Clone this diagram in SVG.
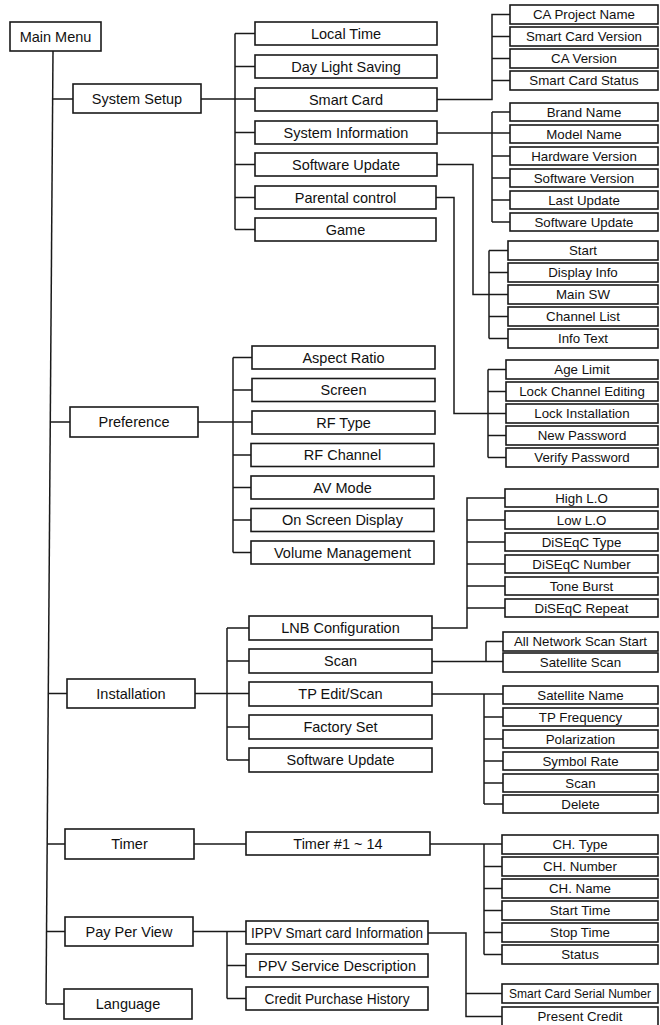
<svg xmlns="http://www.w3.org/2000/svg" width="660" height="1025" viewBox="0 0 660 1025">
<style>
rect{fill:#fff;stroke:#1a1a1a;stroke-width:1.6}
.c path{fill:none;stroke:#1a1a1a;stroke-width:1.5}
text{font-family:"Liberation Sans",Arial,sans-serif;fill:#111;text-anchor:middle}
.t{font-size:14.5px}
.s{font-size:13.3px}
</style>
<rect x="-1" y="-1" width="662" height="1027" style="fill:#fff;stroke:none"/>
<g class="c">
<path d="M53 51 L46 1004"/>
<path d="M52.6 99 H73 M50.3 422 H70 M48.3 693.5 H67 M47.2 844 H65 M46.5 931.5 H65 M46 1004 H64"/>
<path d="M201 99 H255 M235 33.5 V229.5 M235 33.5 H255 M235 66.5 H255 M235 132.5 H255 M235 164.5 H255 M235 197.5 H255 M235 229.5 H255"/>
<path d="M437 99.5 H492 V14.5 H510 M492 36.5 H510 M492 58.5 H510 M492 80.5 H510"/>
<path d="M437 133 H510 M492 112 V222 M492 112 H510 M492 156 H510 M492 178 H510 M492 200 H510 M492 222 H510"/>
<path d="M437 164.5 H473 V294.5 H508 M489 250.5 V338.5 M489 250.5 H508 M489 272.5 H508 M489 316.5 H508 M489 338.5 H508"/>
<path d="M436 197.5 H454 V413.5 H506 M488 369.5 V457.5 M488 369.5 H506 M488 391.5 H506 M488 435.5 H506 M488 457.5 H506"/>
<path d="M198 422 H252 M233 357.5 V552.5 M233 357.5 H252 M233 390 H252 M233 455 H251 M233 487.5 H251 M233 520 H251 M233 552.5 H251"/>
<path d="M195 693.5 H249 M227 628 V760 M227 628 H249 M227 661 H249 M227 727 H249 M227 760 H249"/>
<path d="M432 628 H467 V498 H505 M467 520 H505 M467 542 H505 M467 564 H505 M467 586 H505 M467 608 H505"/>
<path d="M432 661.5 H503 M486 641.5 V661.5 M486 641.5 H503"/>
<path d="M432 694 H503 M484 694 V804 M484 717 H503 M484 739 H503 M484 761 H503 M484 783 H503 M484 804 H503"/>
<path d="M194 844 H246 M430 844 H502 M484 844 V954.5 M484 866.5 H502 M484 888.5 H502 M484 910.5 H502 M484 932.5 H502 M484 954.5 H502"/>
<path d="M193 931.5 H246 M227 931.5 V998.5 M227 965.5 H246 M227 998.5 H246"/>
<path d="M428 933 H466 V1016.5 H502 M466 993.5 H502"/>
</g>
<g id="main"><rect x="10" y="22" width="91" height="29"/><text class="t" x="55.5" y="41.7">Main Menu</text></g>
<g id="system-setup"><rect x="73" y="84" width="128" height="29"/><text class="t" x="137" y="103.7">System Setup</text></g>
<g id="local-time"><rect x="255" y="22" width="182" height="23"/><text class="t" x="346" y="38.7">Local Time</text></g>
<g id="day-light"><rect x="255" y="55" width="182" height="23"/><text class="t" x="346" y="71.7">Day Light Saving</text></g>
<g id="smart-card"><rect x="255" y="88" width="182" height="23"/><text class="t" x="346" y="104.7">Smart Card</text></g>
<g id="system-info"><rect x="255" y="121" width="182" height="23"/><text class="t" x="346" y="137.7">System Information</text></g>
<g id="sw-update"><rect x="255" y="153" width="182" height="23"/><text class="t" x="346" y="169.7">Software Update</text></g>
<g id="parental"><rect x="255" y="186" width="181" height="23"/><text class="t" x="345.5" y="202.7">Parental control</text></g>
<g id="game"><rect x="255" y="218" width="181" height="23"/><text class="t" x="345.5" y="234.7">Game</text></g>
<g id="ca-project"><rect x="510" y="5" width="148" height="19"/><text class="s" x="584" y="19.3">CA Project Name</text></g>
<g id="sc-version"><rect x="510" y="27" width="148" height="19"/><text class="s" x="584" y="41.3">Smart Card Version</text></g>
<g id="ca-version"><rect x="510" y="49" width="148" height="19"/><text class="s" x="584" y="63.3">CA Version</text></g>
<g id="sc-status"><rect x="510" y="71" width="148" height="19"/><text class="s" x="584" y="85.3">Smart Card Status</text></g>
<g id="brand"><rect x="510" y="103" width="148" height="18"/><text class="s" x="584" y="116.8">Brand Name</text></g>
<g id="model"><rect x="510" y="125" width="148" height="18"/><text class="s" x="584" y="138.8">Model Name</text></g>
<g id="hw-version"><rect x="510" y="147" width="148" height="18"/><text class="s" x="584" y="160.8">Hardware Version</text></g>
<g id="sw-version"><rect x="510" y="169" width="148" height="18"/><text class="s" x="584" y="182.8">Software Version</text></g>
<g id="last-update"><rect x="510" y="191" width="148" height="18"/><text class="s" x="584" y="204.8">Last Update</text></g>
<g id="sw-update2"><rect x="510" y="213" width="148" height="18"/><text class="s" x="584" y="226.8">Software Update</text></g>
<g id="start"><rect x="508" y="241" width="150" height="19"/><text class="s" x="583" y="255.3">Start</text></g>
<g id="display-info"><rect x="508" y="263" width="150" height="19"/><text class="s" x="583" y="277.3">Display Info</text></g>
<g id="main-sw"><rect x="508" y="285" width="150" height="19"/><text class="s" x="583" y="299.3">Main SW</text></g>
<g id="channel-list"><rect x="508" y="307" width="150" height="19"/><text class="s" x="583" y="321.3">Channel List</text></g>
<g id="info-text"><rect x="508" y="329" width="150" height="19"/><text class="s" x="583" y="343.3">Info Text</text></g>
<g id="age-limit"><rect x="506" y="360" width="152" height="19"/><text class="s" x="582" y="374.3">Age Limit</text></g>
<g id="lock-ch"><rect x="506" y="382" width="152" height="19"/><text class="s" x="582" y="396.3">Lock Channel Editing</text></g>
<g id="lock-inst"><rect x="506" y="404" width="152" height="19"/><text class="s" x="582" y="418.3">Lock Installation</text></g>
<g id="new-pw"><rect x="506" y="426" width="152" height="19"/><text class="s" x="582" y="440.3">New Password</text></g>
<g id="verify-pw"><rect x="506" y="448" width="152" height="19"/><text class="s" x="582" y="462.3">Verify Password</text></g>
<g id="preference"><rect x="70" y="407" width="128" height="30"/><text class="t" x="134" y="427.2">Preference</text></g>
<g id="aspect"><rect x="252" y="346" width="183" height="23"/><text class="t" x="343.5" y="362.7">Aspect Ratio</text></g>
<g id="screen"><rect x="252" y="378.5" width="183" height="23"/><text class="t" x="343.5" y="395.2">Screen</text></g>
<g id="rf-type"><rect x="252" y="411" width="183" height="23"/><text class="t" x="343.5" y="427.7">RF Type</text></g>
<g id="rf-channel"><rect x="251" y="443.5" width="183" height="23"/><text class="t" x="342.5" y="460.2">RF Channel</text></g>
<g id="av-mode"><rect x="251" y="476" width="183" height="23"/><text class="t" x="342.5" y="492.7">AV Mode</text></g>
<g id="osd"><rect x="251" y="508.5" width="183" height="23"/><text class="t" x="342.5" y="525.2">On Screen Display</text></g>
<g id="volume"><rect x="251" y="541" width="183" height="23"/><text class="t" x="342.5" y="557.7">Volume Management</text></g>
<g id="installation"><rect x="67" y="679" width="128" height="29"/><text class="t" x="131" y="698.7">Installation</text></g>
<g id="lnb"><rect x="249" y="616" width="183" height="24"/><text class="t" x="340.5" y="633.2">LNB Configuration</text></g>
<g id="scan"><rect x="249" y="649" width="183" height="24"/><text class="t" x="340.5" y="666.2">Scan</text></g>
<g id="tp-edit"><rect x="249" y="682" width="183" height="24"/><text class="t" x="340.5" y="699.2">TP Edit/Scan</text></g>
<g id="factory"><rect x="249" y="715" width="183" height="24"/><text class="t" x="340.5" y="732.2">Factory Set</text></g>
<g id="sw-update3"><rect x="249" y="748" width="183" height="24"/><text class="t" x="340.5" y="765.2">Software Update</text></g>
<g id="high-lo"><rect x="505" y="489" width="153" height="18"/><text class="s" x="581.5" y="502.8">High L.O</text></g>
<g id="low-lo"><rect x="505" y="511" width="153" height="18"/><text class="s" x="581.5" y="524.8">Low L.O</text></g>
<g id="diseqc-type"><rect x="505" y="533" width="153" height="18"/><text class="s" x="581.5" y="546.8">DiSEqC Type</text></g>
<g id="diseqc-num"><rect x="505" y="555" width="153" height="18"/><text class="s" x="581.5" y="568.8">DiSEqC Number</text></g>
<g id="tone-burst"><rect x="505" y="577" width="153" height="18"/><text class="s" x="581.5" y="590.8">Tone Burst</text></g>
<g id="diseqc-rep"><rect x="505" y="599" width="153" height="18"/><text class="s" x="581.5" y="612.8">DiSEqC Repeat</text></g>
<g id="all-net"><rect x="503" y="632" width="155" height="19"/><text class="s" x="580.5" y="646.3">All Network Scan Start</text></g>
<g id="sat-scan"><rect x="503" y="653" width="155" height="19"/><text class="s" x="580.5" y="667.3">Satellite Scan</text></g>
<g id="sat-name"><rect x="503" y="686" width="155" height="18"/><text class="s" x="580.5" y="699.8">Satellite Name</text></g>
<g id="tp-freq"><rect x="503" y="708" width="155" height="18"/><text class="s" x="580.5" y="721.8">TP Frequency</text></g>
<g id="polar"><rect x="503" y="730" width="155" height="18"/><text class="s" x="580.5" y="743.8">Polarization</text></g>
<g id="symbol"><rect x="503" y="752" width="155" height="18"/><text class="s" x="580.5" y="765.8">Symbol Rate</text></g>
<g id="scan2"><rect x="503" y="774" width="155" height="18"/><text class="s" x="580.5" y="787.8">Scan</text></g>
<g id="delete"><rect x="503" y="795" width="155" height="18"/><text class="s" x="580.5" y="808.8">Delete</text></g>
<g id="timer"><rect x="65" y="829" width="129" height="30"/><text class="t" x="129.5" y="849.2">Timer</text></g>
<g id="timer-n"><rect x="246" y="832" width="184" height="23"/><text class="t" x="338" y="848.7">Timer #1 ~ 14</text></g>
<g id="ch-type"><rect x="502" y="835" width="156" height="19"/><text class="s" x="580" y="849.3">CH. Type</text></g>
<g id="ch-num"><rect x="502" y="857" width="156" height="19"/><text class="s" x="580" y="871.3">CH. Number</text></g>
<g id="ch-name"><rect x="502" y="879" width="156" height="19"/><text class="s" x="580" y="893.3">CH. Name</text></g>
<g id="start-time"><rect x="502" y="901" width="156" height="19"/><text class="s" x="580" y="915.3">Start Time</text></g>
<g id="stop-time"><rect x="502" y="923" width="156" height="19"/><text class="s" x="580" y="937.3">Stop Time</text></g>
<g id="status"><rect x="502" y="945" width="156" height="19"/><text class="s" x="580" y="959.3">Status</text></g>
<g id="ppv"><rect x="65" y="917" width="128" height="29"/><text class="t" x="129" y="936.7">Pay Per View</text></g>
<g id="ippv"><rect x="246" y="921" width="182" height="23"/><text class="t" x="337" y="937.7" textLength="172" lengthAdjust="spacingAndGlyphs">IPPV Smart card Information</text></g>
<g id="ppv-desc"><rect x="246" y="954" width="182" height="23"/><text class="t" x="337" y="970.7" textLength="158" lengthAdjust="spacingAndGlyphs">PPV Service Description</text></g>
<g id="credit-hist"><rect x="246" y="987" width="182" height="23"/><text class="t" x="337" y="1003.7" textLength="145" lengthAdjust="spacingAndGlyphs">Credit Purchase History</text></g>
<g id="sc-serial"><rect x="502" y="984" width="156" height="19"/><text x="580" y="998" style="font-size:12.4px" textLength="142" lengthAdjust="spacingAndGlyphs">Smart Card Serial Number</text></g>
<g id="present-credit"><rect x="502" y="1007" width="156" height="20"/><text class="s" x="580" y="1021.3">Present Credit</text></g>
<g id="language"><rect x="64" y="989" width="128" height="30"/><text class="t" x="128" y="1009.2">Language</text></g>
</svg>
